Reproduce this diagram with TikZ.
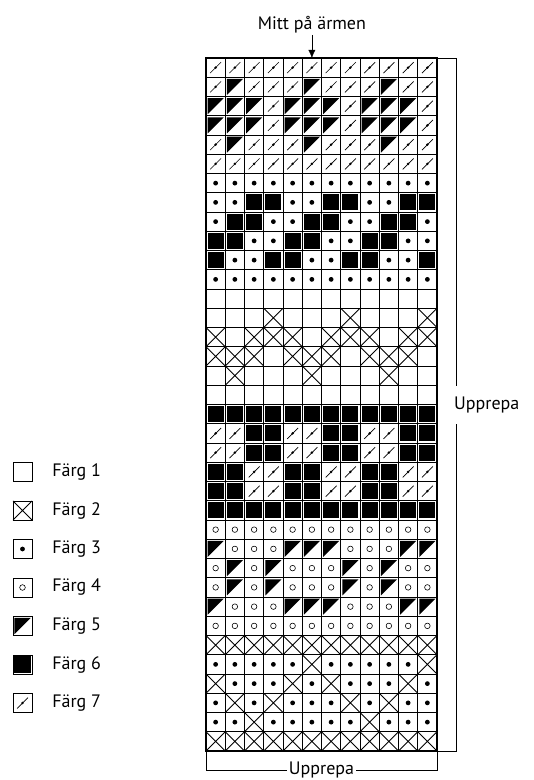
\documentclass[tikz,border=0pt]{standalone}
\usepackage{fontspec}
\setmainfont{PT Sans}
\usetikzlibrary{positioning,arrows.meta,calc}

\tikzset{
  cell/.style={draw, line width=0.6bp, minimum size=19.25bp, inner sep=0pt, outer sep=0pt},
  farg1/.style={cell},
  farg2/.style={cell, path picture={\draw[line width=0.9bp] (path picture bounding box.north west) -- (path picture bounding box.south east) (path picture bounding box.north east) -- (path picture bounding box.south west);}},
  farg3/.style={cell, path picture={\fill (path picture bounding box.center) circle (2.4bp);}},
  farg4/.style={cell, path picture={\draw[line width=0.6bp] (path picture bounding box.center) circle (2.8bp);}},
  farg5/.style={cell, path picture={\fill ([shift={(1.6bp,-1.6bp)}]path picture bounding box.north west) -- ([shift={(-1.6bp,-1.6bp)}]path picture bounding box.north east) -- ([shift={(1.6bp,1.6bp)}]path picture bounding box.south west) -- cycle;}},
  farg6/.style={cell, path picture={\fill ([shift={(1.6bp,-1.6bp)}]path picture bounding box.north west) rectangle ([shift={(-1.6bp,1.6bp)}]path picture bounding box.south east);}},
  farg7/.style={cell, path picture={\draw[line width=0.7bp] ([shift={(4.2bp,4.2bp)}]path picture bounding box.south west) -- ([shift={(-4.2bp,-4.2bp)}]path picture bounding box.north east); \fill (path picture bounding box.center) circle (1.4bp);}},
  label/.style={inner sep=2bp},
}

\begin{document}
\begin{tikzpicture}[x=1bp, y=-1bp, font=\fontsize{18bp}{21bp}\selectfont]
  \useasboundingbox (0,0) rectangle (534,780);

  \foreach \row [count=\r] in {
    {7,7,7,7,7,7,7,7,7,7,7,7},
    {7,5,7,7,7,5,7,7,7,5,7,7},
    {5,5,5,7,5,5,5,7,5,5,5,7},
    {5,5,5,7,5,5,5,7,5,5,5,7},
    {7,5,7,7,7,5,7,7,7,5,7,7},
    {7,7,7,7,7,7,7,7,7,7,7,7},
    {3,3,3,3,3,3,3,3,3,3,3,3},
    {3,3,6,6,3,3,6,6,3,3,6,6},
    {3,6,6,3,3,6,6,3,3,6,6,3},
    {6,6,3,3,6,6,3,3,6,6,3,3},
    {6,3,3,6,6,3,3,6,6,3,3,6},
    {3,3,3,3,3,3,3,3,3,3,3,3},
    {1,1,1,1,1,1,1,1,1,1,1,1},
    {1,1,1,2,1,1,1,2,1,1,1,2},
    {2,1,2,2,2,1,2,2,2,1,2,2},
    {2,2,2,1,2,2,2,1,2,2,2,1},
    {1,2,1,1,1,2,1,1,1,2,1,1},
    {1,1,1,1,1,1,1,1,1,1,1,1},
    {6,6,6,6,6,6,6,6,6,6,6,6},
    {7,7,6,6,7,7,6,6,7,7,6,6},
    {7,7,6,6,7,7,6,6,7,7,6,6},
    {6,6,7,7,6,6,7,7,6,6,7,7},
    {6,6,7,7,6,6,7,7,6,6,7,7},
    {6,6,6,6,6,6,6,6,6,6,6,6},
    {4,4,4,4,4,4,4,4,4,4,4,4},
    {5,4,4,4,5,5,5,4,4,4,5,5},
    {4,5,4,5,4,4,4,5,4,5,4,4},
    {4,5,4,5,4,4,4,5,4,5,4,4},
    {5,4,4,4,5,5,5,4,4,4,5,5},
    {4,4,4,4,4,4,4,4,4,4,4,4},
    {2,2,2,2,2,2,2,2,2,2,2,2},
    {3,3,3,3,3,2,3,3,3,3,3,2},
    {2,3,3,3,2,3,2,3,3,3,2,3},
    {3,2,3,2,3,3,3,2,3,2,3,3},
    {3,3,2,3,3,3,3,3,2,3,3,3},
    {2,2,2,2,2,2,2,2,2,2,2,2}}
    \foreach \c [count=\k] in \row
      \node[farg\c] (c-\r-\k) at ({206+19.25*(\k-0.5)}, {58+19.25*(\r-0.5)}) {};

  \draw[line width=2.5bp] (c-1-1.north west) rectangle (c-36-12.south east);

  \node[label, above=23bp of c-1-6.north] (mid) {Mitt på ärmen};
  \draw[-{Latex[length=8bp,width=7bp]}] (mid) -- (c-1-6.north);

  \coordinate (rt) at ([xshift=19bp]c-1-12.north east);
  \coordinate (rb) at ([xshift=19bp]c-36-12.south east);
  \node[label, anchor=west, inner sep=0pt] (rep1) at ([xshift=-2bp]rt |- 0,405) {Upprepa};
  \draw (c-1-12.north east) -- (rt) -- ([yshift=19bp]rt |- rep1.center);
  \draw ([yshift=-19bp]rt |- rep1.center) -- (rb) -- (c-36-12.south east);

  \coordinate (bl) at ([yshift=-19bp]c-36-1.south west);
  \coordinate (br) at ([yshift=-19bp]c-36-12.south east);
  \node[inner sep=0pt] (rep2) at ($(bl)!0.5!(br)$) {Upprepa};
  \draw (c-36-1.south west) -- (bl) -- ([xshift=-2bp]rep2.west);
  \draw ([xshift=2bp]rep2.east) -- (br) -- (c-36-12.south east);

  \foreach \i in {1,...,7} {
    \node[farg\i] (key\i) at (22.5, {472+38.5*(\i-1)}) {};
    \node[label, right=18bp of key\i] {Färg \i};
  }
\end{tikzpicture}
\end{document}
